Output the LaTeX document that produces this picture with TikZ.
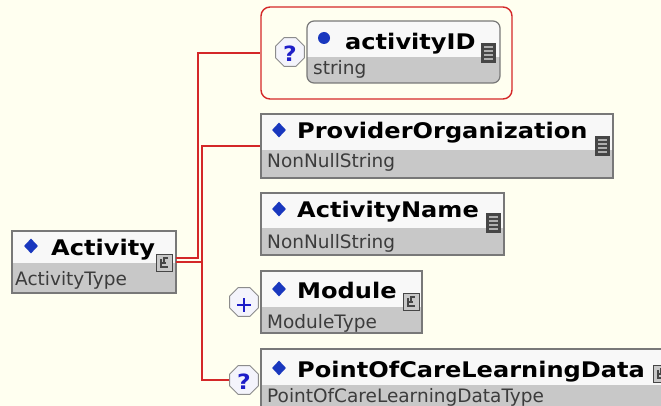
\documentclass[tikz,border=0pt]{standalone}
\usepackage{fontspec}
\usetikzlibrary{shapes.geometric,fit}
\newfontfamily\tfont[FakeStretch=1.12]{DejaVu Sans Bold}
\newfontfamily\sfont{DejaVu Sans}
\definecolor{bg}{RGB}{255,255,240}
\definecolor{boxline}{RGB}{120,120,120}
\definecolor{topfill}{RGB}{248,248,248}
\definecolor{bandfill}{RGB}{200,200,200}
\definecolor{subtext}{RGB}{60,60,60}
\definecolor{diablue}{RGB}{25,55,190}
\definecolor{conred}{RGB}{212,40,40}
\definecolor{octline}{RGB}{140,140,140}
\definecolor{octfill}{RGB}{244,244,252}
\definecolor{qblue}{RGB}{30,30,200}
\definecolor{docdark}{RGB}{70,70,70}
\definecolor{doclight}{RGB}{175,175,175}
\tikzset{
  boxframe/.style={draw=boxline,line width=1.2,inner sep=0pt},
  ttl/.style={font=\tfont\fontsize{21.5}{21.5}\selectfont,inner sep=0pt,anchor=base west,text=black},
  sub/.style={font=\sfont\fontsize{18.5}{18.5}\selectfont,inner sep=0pt,anchor=base west,text=subtext},
  dia/.style={diamond,fill=diablue,minimum width=14,minimum height=15,inner sep=0pt},
  oct/.style={regular polygon,regular polygon sides=8,minimum size=31,draw=octline,fill=octfill,line width=1,inner sep=0pt},
  qmark/.style={font=\tfont\fontsize{21}{21}\selectfont,text=qblue,inner sep=0pt},
  conn/.style={draw=conred,line width=1.6},
  docbox/.style={fill=docdark,minimum width=15,minimum height=20,inner sep=0pt,anchor=north west},
  docline/.style={draw=doclight,line width=1.4},
  cxbox/.style={draw=docdark,fill=bandfill,line width=1,minimum width=16,minimum height=17,inner sep=0pt,anchor=north west},
  cxglyph/.style={draw=docdark,line width=1.2},
  grpbox/.style={draw=conred,line width=1.4,rounded corners=9,inner sep=0pt}
}
\newcommand\ebox[6]{%
  \fill[topfill] (#2,#3) rectangle (#4,#6);
  \fill[bandfill] (#2,#6) rectangle (#4,#5);
  \node[boxframe,fit={(#2,#3) (#4,#5)}] (#1) {};
}
\newcommand\docicon[3]{%
  \node[docbox] (#1) at (#2,#3) {};
  \foreach \k in {1,...,4} {\draw[docline] ({#2+3},{#3+4*\k}) -- ({#2+12},{#3+4*\k});}
}
\newcommand\cxicon[3]{%
  \node[cxbox] (#1) at (#2,#3) {};
  \draw[cxglyph] ({#2+5},{#3+5}) -- ({#2+5},{#3+13}) -- ({#2+12},{#3+13});
  \draw[cxglyph] ({#2+5},{#3+9}) -- ({#2+10},{#3+9});
  \draw[cxglyph] ({#2+8},{#3+9}) -- ({#2+8},{#3+4}) -- ({#2+12},{#3+4});
}
\begin{document}
\begin{tikzpicture}[x=1pt,y=-1pt]
\useasboundingbox (0,0) rectangle (661,406);
\clip (0,0) rectangle (661,406);
\fill[bg] (0,0) rectangle (661,406);

% Activity
\ebox{act}{12}{231}{176}{293}{263}
\node[dia] (act-d) at (31,246) {};
\node[ttl] (act-t) at (51,255) {Activity};
\node[sub] (act-s) at (15,285) {ActivityType};
\cxicon{act-i}{156}{254}

% group with activityID
\node[grpbox,fit={(261,7) (512,99)}] (grp) {};
\node[oct] (q1) at (290,52) {};
\node[qmark] (q1-m) at (290,54) {?};
\begin{scope}
  \clip[rounded corners=7] (307,21) rectangle (500,83);
  \fill[topfill] (307,21) rectangle (500,57);
  \fill[bandfill] (307,57) rectangle (500,83);
\end{scope}
\node[boxframe,rounded corners=7,fit={(307,21) (500,83)}] (aid) {};
\node[circle,fill=diablue,minimum size=12,inner sep=0pt] (aid-d) at (324,38) {};
\node[ttl] (aid-t) at (345,50) {activityID};
\node[sub] (aid-s) at (313,75) {string};
\docicon{aid-i}{481}{43}

% ProviderOrganization
\ebox{po}{261}{114}{613}{178}{150}
\node[dia] (po-d) at (279,130) {};
\node[ttl] (po-t) at (297,139) {ProviderOrganization};
\node[sub] (po-s) at (267,168) {NonNullString};
\docicon{po-i}{595}{136}

% ActivityName
\ebox{an}{261}{193}{504}{255}{228}
\node[dia] (an-d) at (279,209) {};
\node[ttl] (an-t) at (297,218) {ActivityName};
\node[sub] (an-s) at (267,248) {NonNullString};
\docicon{an-i}{486}{213}

% Module
\ebox{mod}{261}{271}{422}{333}{307}
\node[dia] (mod-d) at (279,289) {};
\node[ttl] (mod-t) at (297,298) {Module};
\node[sub] (mod-s) at (267,328) {ModuleType};
\cxicon{mod-i}{403}{293}
\node[oct] (q3) at (244,302) {};
\draw[qblue,line width=2] (q3.center) ++(-7,3) -- ++(14,0);
\draw[qblue,line width=2] (q3.center) ++(0,-4) -- ++(0,14);

% PointOfCareLearningData
\ebox{pc}{261}{349}{680}{420}{385}
\node[dia] (pc-d) at (279,368) {};
\node[ttl] (pc-t) at (297,377) {PointOfCareLearningData};
\node[sub] (pc-s) at (267,402) {PointOfCareLearningDataType};
\cxicon{pc-i}{653}{365}
\node[oct] (q2) at (244,380) {};
\node[qmark] (q2-m) at (244,382) {?};

% connectors
\coordinate (a1) at (176,258);
\coordinate (a2) at (176,262);
\coordinate (j1) at (198,53);
\coordinate (j2) at (202,146);
\draw[conn] (a1) -| (j1) -- (grp.west);
\draw[conn] (a2) -| (j2) -- (po.west);
\draw[conn] (j2) |- (q2.west);
\end{tikzpicture}
\end{document}
